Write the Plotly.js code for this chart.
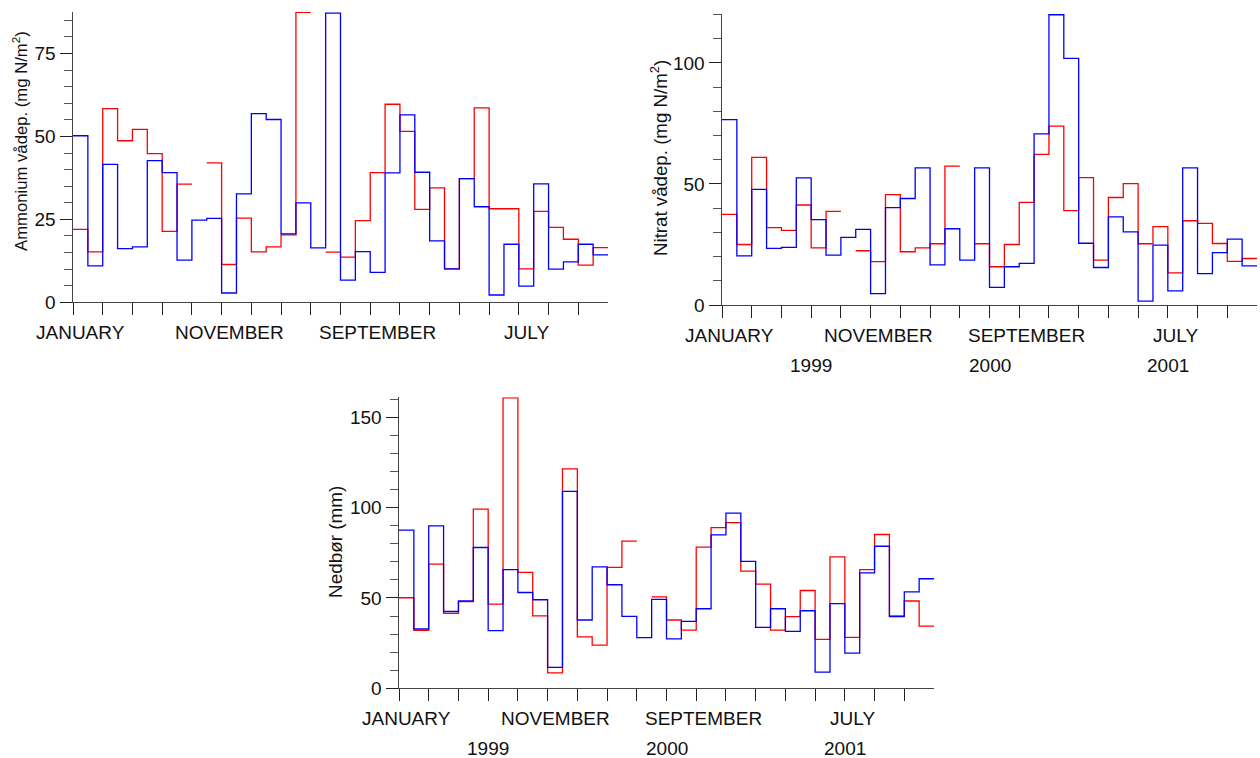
<!DOCTYPE html>
<html>
<head>
<meta charset="utf-8">
<script src="https://cdn.plot.ly/plotly-3.0.1.min.js"></script>
<style>
  html, body { margin: 0; padding: 0; background: #ffffff; }
  #chart { width: 1260px; height: 758px; }
</style>
</head>
<body>
<div id="chart"></div>
<script>
// Monthly wet deposition and precipitation, January 1999 – December 2001.
// One value per month; null marks a month without a sample.
const ammoniumRed = [22.0, 15.2, 58.4, 48.7, 52.1, 44.8, 21.4, 35.6, null, 42.0, 11.4, 25.4,
                     15.2, 16.7, 20.3, 87.4, null, 15.1, 13.6, 24.6, 39.1, 59.7, 51.5, 28.0,
                     34.5, 10.1, 37.3, 58.6, 28.2, 28.2, 10.1, 27.4, 22.6, 19.0, 11.2, 16.5];
const ammoniumBlue = [50.2, 11.0, 41.6, 16.2, 16.7, 42.7, 39.1, 12.7, 24.8, 25.3, 2.8, 32.7,
                      56.9, 55.1, 20.6, 30.0, 16.4, 87.2, 6.7, 15.3, 9.0, 39.0, 56.5, 39.2,
                      18.5, 10.1, 37.3, 28.8, 2.2, 17.5, 4.9, 35.7, 10.0, 12.2, 17.5, 14.3];

const nitratRed = [37.4, 25.0, 61.0, 32.0, 30.8, 41.3, 23.6, 38.7, null, 22.4, 17.9, 45.6,
                   22.0, 23.6, 25.3, 57.4, null, 25.3, 15.8, 25.0, 42.4, 62.2, 73.9, 39.0,
                   52.6, 18.5, 44.4, 50.1, 25.3, 32.4, 13.3, 34.8, 33.7, 25.4, 18.0, 19.2];
const nitratBlue = [76.6, 20.3, 47.8, 23.4, 23.8, 52.5, 35.3, 20.6, 27.9, 31.2, 4.7, 40.2,
                    44.0, 56.6, 16.6, 31.5, 18.5, 56.6, 7.3, 15.8, 17.2, 70.7, 119.9, 101.9,
                    25.5, 15.5, 36.4, 30.2, 1.6, 24.7, 5.8, 56.6, 13.0, 21.6, 27.2, 16.2];

const nedborRed = [50.1, 32.0, 68.7, 41.4, 47.9, 99.1, 46.6, 160.7, 64.1, 40.1, 8.5, 121.4,
                   28.5, 23.9, 66.9, 81.4, null, 50.6, 37.8, 32.2, 78.1, 88.9, 91.7, 64.8,
                   57.6, 32.2, 39.6, 54.1, 27.1, 72.7, 28.2, 65.7, 85.1, 40.0, 48.3, 34.4];
const nedborBlue = [87.5, 32.8, 89.9, 42.5, 48.3, 77.9, 31.9, 65.7, 53.0, 49.0, 11.6, 109.0,
                    37.8, 67.2, 57.3, 39.8, 28.0, 49.2, 27.4, 37.0, 44.0, 84.9, 96.9, 70.2,
                    33.7, 44.0, 31.5, 42.9, 9.0, 46.8, 19.5, 63.9, 78.6, 39.6, 53.4, 60.6];

// Axis labelling (month index counted from January 1999)
const monthTicks = [0, 2, 4, 6, 8, 10, 12, 14, 16, 18, 20, 22, 24, 26, 28, 30, 32, 34];
const monthLabels = ['JANUARY', 'NOVEMBER', 'SEPTEMBER', 'JULY'];
const monthLabelAt = [0, 10, 20, 30];
const yearLabels = ['1999', '2000', '2001'];
const yearLabelAt = [6, 18, 30];

const W = 1260, H = 758;
const FONT = 'Liberation Sans, Arial, Helvetica, sans-serif';
const RED = '#ff0000', BLUE = '#0000ff';

// Turn monthly values into a stepped outline: each month is a flat segment
// from its first to its last day; a null month breaks the line.
function steps(values) {
  const x = [], y = [];
  values.forEach((v, i) => {
    if (v === null) { x.push(i + 0.5); y.push(null); }
    else { x.push(i, i + 1); y.push(v, v); }
  });
  return { x, y };
}

const panels = [
  { id: '',  box: [73, 608, 11.7, 302.3],  ymax: 87.6,  dtick: 25, minor: 5,
    title: 'Ammonium vådep. (mg N/m<sup>2</sup>)', titleX: 20, titleY: 141, titleSize: 16.7,
    years: false, red: ammoniumRed, blue: ammoniumBlue },
  { id: '2', box: [722, 1257, 14, 305],    ymax: 120.2, dtick: 50, minor: 10,
    title: 'Nitrat vådep. (mg N/m<sup>2</sup>)', titleX: 659, titleY: 158, titleSize: 18.7,
    years: true, red: nitratRed, blue: nitratBlue },
  { id: '3', box: [399, 934, 397.3, 688.3], ymax: 161,  dtick: 50, minor: 10,
    title: 'Nedbør (mm)', titleX: 335, titleY: 542, titleSize: 18.9,
    years: true, red: nedborRed, blue: nedborBlue }
];

const traces = [];
const layout = {
  width: W, height: H,
  margin: { l: 0, r: 0, t: 0, b: 0 },
  paper_bgcolor: '#ffffff', plot_bgcolor: '#ffffff',
  showlegend: false,
  font: { family: FONT, color: '#111111', size: 19 },
  annotations: []
};

panels.forEach(p => {
  const xa = 'x' + p.id, ya = 'y' + p.id;
  [[p.red, RED], [p.blue, BLUE]].forEach(([vals, col]) => {
    const s = steps(vals);
    traces.push({
      type: 'scatter', mode: 'lines', x: s.x, y: s.y,
      xaxis: xa, yaxis: ya, connectgaps: false,
      line: { color: col, width: 1.3, shape: 'linear' },
      hoverinfo: 'skip'
    });
  });

  const [x0, x1, yTop, yBot] = p.box;
  layout['xaxis' + p.id] = {
    domain: [x0 / W, x1 / W], anchor: ya,
    range: [0, 36], type: 'linear', fixedrange: true,
    showline: true, linecolor: '#444444', linewidth: 1,
    showgrid: false, zeroline: false,
    tickmode: 'array', tickvals: monthTicks, showticklabels: false,
    ticks: 'outside', ticklen: 12, tickwidth: 1, tickcolor: '#222222'
  };
  layout['yaxis' + p.id] = {
    domain: [1 - yBot / H, 1 - yTop / H], anchor: xa,
    range: [0, p.ymax], fixedrange: true,
    showline: true, linecolor: '#444444', linewidth: 1,
    showgrid: false, zeroline: false,
    tick0: 0, dtick: p.dtick,
    ticks: 'outside', ticklen: 12.5, tickwidth: 1, tickcolor: '#222222',
    tickfont: { family: FONT, size: 19, color: '#111111' },
    minor: { tick0: 0, dtick: p.minor, ticks: 'outside', ticklen: 8,
             tickwidth: 1, tickcolor: '#555555', showgrid: false }
  };

  // Axis title, drawn vertically left of the tick labels
  layout.annotations.push({
    xref: 'paper', yref: 'paper',
    x: p.titleX / W, y: 1 - p.titleY / H,
    xanchor: 'center', yanchor: 'middle', textangle: -90, showarrow: false,
    text: p.title, font: { family: FONT, size: p.titleSize, color: '#111111' }
  });

  // Month names centred on their month, years centred on the year
  monthLabels.forEach((t, i) => {
    layout.annotations.push({
      xref: xa, yref: 'paper', x: monthLabelAt[i] + 0.5, y: 1 - (yBot + 30.5) / H,
      xanchor: 'center', yanchor: 'middle', showarrow: false,
      text: t, font: { family: FONT, size: 19, color: '#111111' }
    });
  });
  if (p.years) {
    yearLabels.forEach((t, i) => {
      layout.annotations.push({
        xref: xa, yref: 'paper', x: yearLabelAt[i], y: 1 - (yBot + 60) / H,
        xanchor: 'center', yanchor: 'middle', showarrow: false,
        text: t, font: { family: FONT, size: 19, color: '#111111' }
      });
    });
  }
});

Plotly.newPlot('chart', traces, layout, { staticPlot: true, displayModeBar: false });
</script>
</body>
</html>
